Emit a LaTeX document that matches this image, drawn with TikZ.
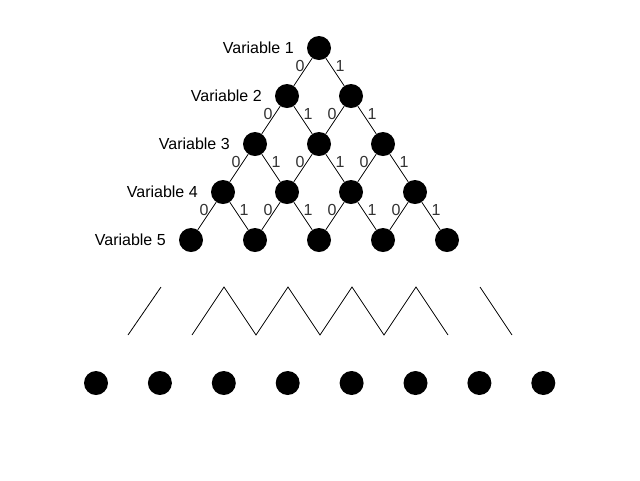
\documentclass[tikz,border=0pt]{standalone}
\usepackage{fontspec}
\setmainfont{Liberation Sans}
\usetikzlibrary{calc}
\begin{document}
\begin{tikzpicture}[x=0.75pt,y=-0.75pt,
  dot/.style={circle,fill=black,minimum size=18pt,inner sep=0pt},
  edge/.style={line width=0.6pt,black},
  lbl/.style={font=\fontsize{12}{14}\selectfont,inner sep=0pt},
  elbl/.style={font=\fontsize{12}{14}\selectfont,inner sep=0pt,text=black!80}]
\fill[white] (0,0) rectangle (640,480);
\useasboundingbox (0,0) rectangle (640,480);
% tree nodes
\foreach \l in {1,...,5}{
  \foreach \k in {1,...,\l}{
    \node[dot] (n\l\k) at ({319+(2*\k-\l-1)*32},{48*\l}) {};
  }
  \node[lbl,anchor=east] (v\l) at ($(n\l1)+(-25,0)$) {Variable \l};
}
% edges and labels
\foreach \l in {1,...,4}{
  \foreach \k in {1,...,\l}{
    \pgfmathtruncatemacro{\m}{\l+1}
    \pgfmathtruncatemacro{\kk}{\k+1}
    \draw[edge] (n\l\k) -- (n\m\k);
    \draw[edge] (n\l\k) -- (n\m\kk);
    \node[elbl] (z\l\k) at ($(n\l\k)+(-19,18)$) {0};
    \node[elbl] (o\l\k) at ($(n\l\k)+(21,18)$) {1};
  }
}
% zigzag strokes
\draw[edge] (128,335) -- (161,287);
\draw[edge] (192,335) -- (224,287) -- (256,335) -- (288,287) -- (320,335)
  -- (352,287) -- (384,335) -- (416,287) -- (448,335);
\draw[edge] (480,287) -- (512,335);
% bottom row
\foreach \i in {1,...,8}{
  \node[dot] (b\i) at ({96+63.9*(\i-1)},383) {};
}
\end{tikzpicture}
\end{document}
